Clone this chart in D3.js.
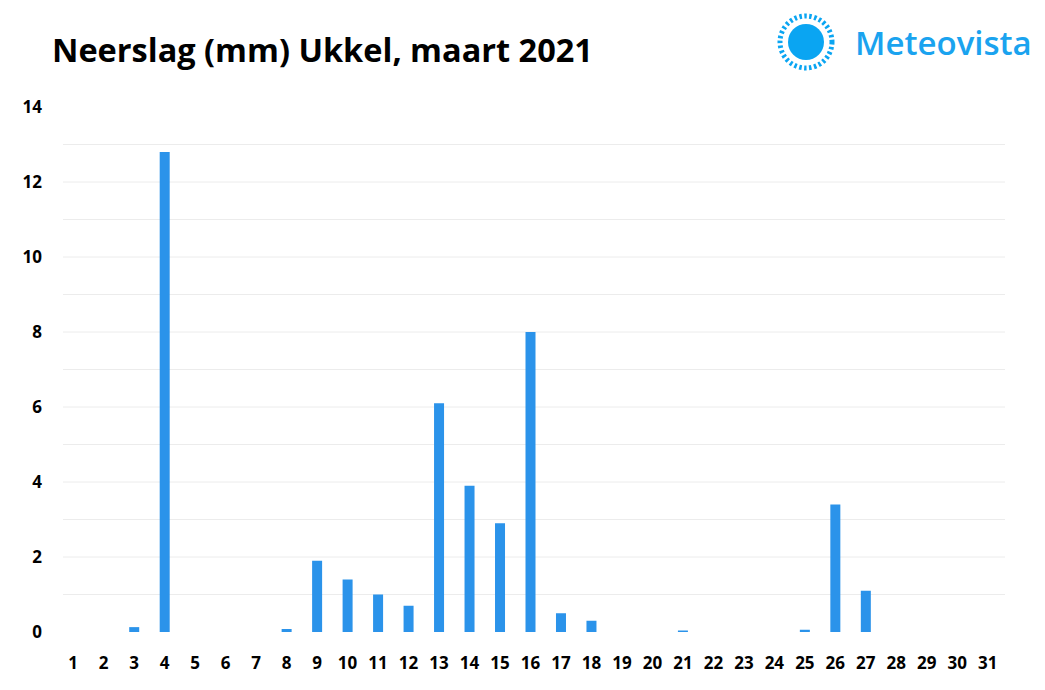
<!DOCTYPE html>
<html><head><meta charset="utf-8">
<script src="https://cdn.jsdelivr.net/npm/d3@7"></script>
<style>body{margin:0;background:#fff}</style>
</head><body>
<script>
// neerslag per dag, maart 2021
const days = d3.range(1, 32);
const rain = [0,0,0.13,12.8,0,0,0,0.08,1.9,1.4,1.0,0.7,6.1,3.9,2.9,8.0,0.5,0.3,0,0,0.04,0,0,0,0.06,3.4,1.1,0,0,0,0];
const yTicks = [0,2,4,6,8,10,12,14];

const width = 1045, height = 690;
const svg = d3.select('body').append('svg').attr('width', width).attr('height', height)
  .style('font-family', 'Open Sans, sans-serif');

const x = d3.scaleBand().domain(days).range([58, 1003]);
const y = d3.scaleLinear().domain([0, 14]).range([632, 107]);

// rasterlijnen elke mm
svg.append('g').selectAll('line').data(d3.range(1, 14)).join('line')
  .attr('x1', 63).attr('x2', 1005)
  .attr('y1', d => y(d)).attr('y2', d => y(d))
  .attr('stroke', '#ececec').attr('stroke-width', 1);

svg.append('g').selectAll('rect').data(days).join('rect')
  .attr('x', d => x(d) + x.bandwidth() / 2 - 5)
  .attr('width', 10)
  .attr('y', (d, i) => y(rain[i]))
  .attr('height', (d, i) => y(0) - y(rain[i]))
  .attr('fill', '#2b93ea');

svg.append('g').selectAll('text').data(yTicks).join('text')
  .attr('x', 42).attr('y', d => y(d) + 6)
  .attr('text-anchor', 'end').attr('font-size', 17).attr('font-weight', 'bold')
  .text(d => d);

svg.append('g').selectAll('text').data(days).join('text')
  .attr('x', d => x(d) + x.bandwidth() / 2).attr('y', 669)
  .attr('text-anchor', 'middle').attr('font-size', 17).attr('font-weight', 'bold')
  .text(d => d);

svg.append('text').attr('x', 52).attr('y', 62)
  .attr('font-size', 32.5).attr('font-weight', 'bold').text('Neerslag (mm) Ukkel, maart 2021');

// logo
const logo = svg.append('g').attr('transform', 'translate(806,42)');
logo.append('circle').attr('r', 18).attr('fill', '#0aa5f2');
logo.append('circle').attr('r', 26).attr('fill', 'none').attr('stroke', '#0aa5f2')
  .attr('stroke-width', 5).attr('stroke-dasharray', '2.5 2.5');
svg.append('text').attr('x', 855).attr('y', 55).attr('font-size', 33).attr('font-weight', 600)
  .attr('fill', '#1aa3ef').text('Meteovista');
</script>
</body></html>
